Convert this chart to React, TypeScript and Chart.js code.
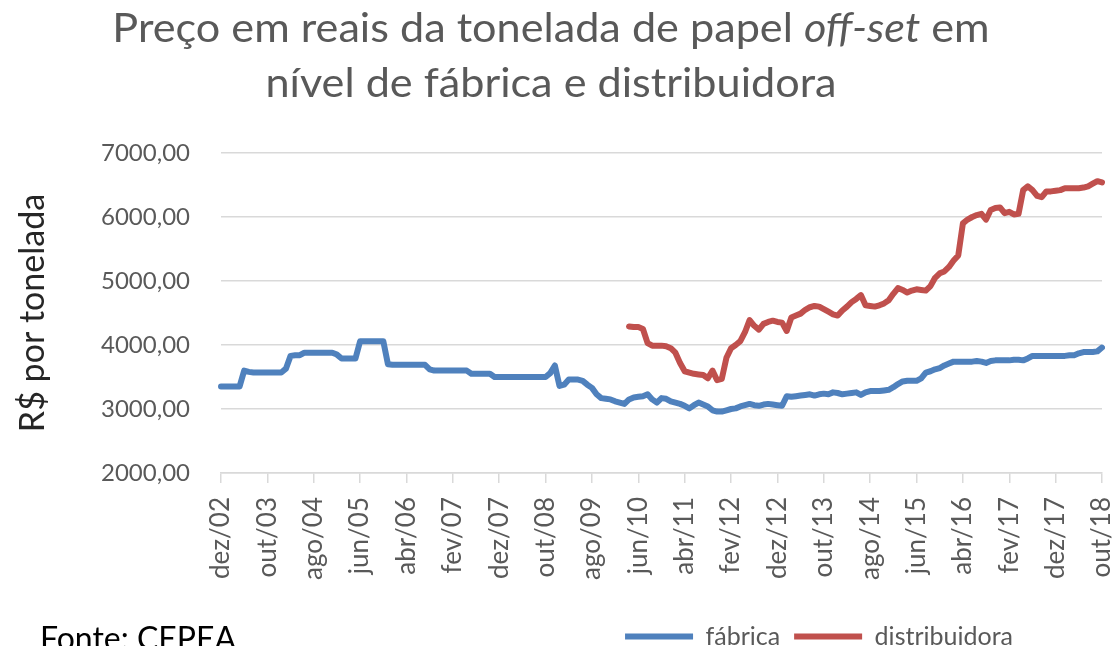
import React, { useEffect, useRef } from 'react';
import { Chart, registerables } from 'chart.js';

Chart.register(...registerables);

// Month abbreviations (pt-BR) used for the monthly category axis
const monthNames = ['jan', 'fev', 'mar', 'abr', 'mai', 'jun', 'jul', 'ago', 'set', 'out', 'nov', 'dez'];
const firstMonth = 'dez/02';
const monthCount = 191; // dez/02 .. out/18

// Tick labels shown every 10 months
const tickLabels = [
  'dez/02', 'out/03', 'ago/04', 'jun/05', 'abr/06', 'fev/07', 'dez/07', 'out/08', 'ago/09', 'jun/10',
  'abr/11', 'fev/12', 'dez/12', 'out/13', 'ago/14', 'jun/15', 'abr/16', 'fev/17', 'dez/17', 'out/18',
];

// fábrica, monthly from dez/02 to out/18 (R$ por tonelada)
const fabrica = [
  3350, 3350, 3350, 3350, 3350, 3600, 3580, 3570, 3570, 3570,
  3570, 3570, 3570, 3570, 3630, 3830, 3840, 3840, 3880, 3880,
  3880, 3880, 3880, 3880, 3880, 3850, 3790, 3790, 3790, 3790,
  4060, 4060, 4060, 4060, 4060, 4060, 3700, 3690, 3690, 3690,
  3690, 3690, 3690, 3690, 3690, 3620, 3600, 3600, 3600, 3600,
  3600, 3600, 3600, 3600, 3550, 3550, 3550, 3550, 3550, 3500,
  3500, 3500, 3500, 3500, 3500, 3500, 3500, 3500, 3500, 3500,
  3500, 3560, 3680, 3360, 3380, 3460, 3460, 3460, 3440, 3380,
  3330, 3230, 3170, 3160, 3150, 3120, 3100, 3080, 3150, 3180,
  3190, 3200, 3230, 3150, 3100, 3170, 3160, 3120, 3100, 3080,
  3050, 3010, 3060, 3100, 3070, 3040, 2980, 2960, 2960, 2980,
  3000, 3010, 3040, 3060, 3080, 3060, 3050, 3070, 3080, 3070,
  3060, 3050, 3200, 3190, 3200, 3210, 3220, 3230, 3210, 3230,
  3240, 3230, 3260, 3250, 3230, 3240, 3250, 3260, 3220, 3260,
  3280, 3280, 3280, 3290, 3300, 3340, 3390, 3430, 3440, 3440,
  3440, 3480, 3570, 3590, 3620, 3640, 3680, 3710, 3740, 3740,
  3740, 3740, 3740, 3750, 3740, 3720, 3750, 3760, 3760, 3760,
  3760, 3770, 3770, 3760, 3790, 3830, 3830, 3830, 3830, 3830,
  3830, 3830, 3830, 3840, 3840, 3870, 3890, 3890, 3890, 3900,
  3960,
];

// distribuidora, monthly from abr/10 to out/18
const distribuidoraStart = 'abr/10';
const distribuidora = [
  4290, 4280,
  4280, 4250, 4030, 3990, 3990, 3990, 3980, 3950, 3880, 3720,
  3590, 3570, 3550, 3540, 3530, 3480, 3600, 3450, 3470, 3800,
  3950, 4000, 4060, 4200, 4390, 4300, 4240, 4330, 4360, 4380,
  4360, 4350, 4220, 4430, 4460, 4490, 4550, 4590, 4610, 4600,
  4560, 4520, 4480, 4460, 4540, 4600, 4670, 4720, 4780, 4620,
  4610, 4600, 4620, 4650, 4700, 4800, 4890, 4860, 4820, 4850,
  4870, 4860, 4850, 4920, 5050, 5120, 5150, 5220, 5320, 5400,
  5900, 5960, 6000, 6030, 6050, 5960, 6110, 6140, 6150, 6060,
  6080, 6040, 6050, 6420, 6480, 6420, 6330, 6310, 6400, 6400,
  6410, 6420, 6450, 6450, 6450, 6450, 6460, 6480, 6520, 6560,
  6540,
];

const seriesNames = ['fábrica', 'distribuidora'];
const seriesColors = ['#4F81BD', '#C0504D'];

function buildMonths(): string[] {
  const [m0, y0] = firstMonth.split('/');
  let m = monthNames.indexOf(m0);
  let y = parseInt(y0, 10);
  const out: string[] = [];
  for (let k = 0; k < monthCount; k++) {
    out.push(`${monthNames[m]}/${String(y).padStart(2, '0')}`);
    m++;
    if (m === 12) { m = 0; y++; }
  }
  return out;
}

const FONT = 'Lato';

export default function App() {
  const ref = useRef<HTMLCanvasElement>(null);

  useEffect(() => {
    document.body.style.margin = '0';
    const months = buildMonths();
    const start = months.indexOf(distribuidoraStart);
    const distData = months.map((_, k) => (k < start ? null : distribuidora[k - start] ?? null));

    const legendShift = {
      id: 'legendShift',
      afterLayout(chart: any) {
        const lg = chart.legend;
        if (!lg) return;
        const pad = lg.options.labels.padding || 0;
        const dx = 826 - pad / 2 - (lg.left + lg.right) / 2;
        lg.left += dx;
        lg.right += dx;
        const dy = 610 - lg.top;
        lg.top += dy;
        lg.bottom += dy;
      },
    };

    const chart = new Chart(ref.current!, {
      type: 'line',
      data: {
        labels: months,
        datasets: [
          {
            label: seriesNames[0],
            data: fabrica,
            borderColor: seriesColors[0],
            backgroundColor: seriesColors[0],
            borderWidth: 6,
            pointRadius: 0,
            borderCapStyle: 'round',
            borderJoinStyle: 'round',
            tension: 0,
          },
          {
            label: seriesNames[1],
            data: distData,
            borderColor: seriesColors[1],
            backgroundColor: seriesColors[1],
            borderWidth: 6,
            pointRadius: 0,
            borderCapStyle: 'round',
            borderJoinStyle: 'round',
            tension: 0,
          },
        ],
      },
      options: {
        responsive: false,
        animation: false,
        layout: { padding: { top: 153, right: 15, left: 0, bottom: 0 } },
        plugins: {
          title: { display: false },
          tooltip: { enabled: false },
          legend: {
            position: 'bottom',
            labels: {
              boxWidth: 68,
              boxHeight: 6,
              padding: 14,
              color: '#595959',
              font: { family: FONT, size: 25 },
              generateLabels: (c: any) =>
                (Chart.defaults.plugins.legend.labels.generateLabels as any)(c).map((l: any) => ({ ...l, lineWidth: 0 })),
            },
          },
        },
        scales: {
          x: {
            ticks: {
              autoSkip: false,
              maxRotation: 90,
              minRotation: 90,
              padding: 14,
              color: '#595959',
              font: { family: FONT, size: 26 },
              callback: (_v: any, i: number) => (i % 10 === 0 ? tickLabels[i / 10] : null),
            },
            grid: { drawOnChartArea: false, drawTicks: true, tickLength: 10, color: '#d9d9d9', lineWidth: 1.5 },
            border: { display: true, color: '#d9d9d9', width: 1.5 },
            afterFit: (s: any) => { s.height = 124; s.paddingLeft = 0; s.paddingRight = 0; },
          },
          y: {
            min: 2000,
            max: 7000,
            ticks: {
              stepSize: 1000,
              padding: 31,
              color: '#595959',
              font: { family: FONT, size: 24 },
              callback: (v: any) => Number(v).toFixed(2).replace('.', ','),
            },
            grid: { color: '#d9d9d9', lineWidth: 1.5, drawTicks: false },
            border: { display: false },
            title: {
              display: true,
              text: 'R$ por tonelada',
              color: '#262626',
              font: { family: FONT, size: 34 },
              padding: { top: 13, bottom: 0 },
            },
            afterFit: (s: any) => { s.width = 221; },
          },
        },
      } as any,
      plugins: [legendShift],
    });
    return () => chart.destroy();
  }, []);

  return (
    <div style={{ position: 'relative', width: 1117, height: 646, overflow: 'hidden', background: '#fff', fontFamily: FONT }}>
      <canvas ref={ref} width={1117} height={646} style={{ position: 'absolute', left: 0, top: 0 }} />
      <div
        style={{
          position: 'absolute', left: 0, top: 0, width: 1102, textAlign: 'center',
          fontSize: 40, lineHeight: '55px', color: '#595959',
          transform: 'scaleX(1.08)', transformOrigin: '551px 0',
        }}
      >
        <div>Preço em reais da tonelada de papel <i>off-set</i> em</div>
        <div>nível de fábrica e distribuidora</div>
      </div>
      <div style={{ position: 'absolute', left: 40, top: 622, fontSize: 32, lineHeight: '32px', color: '#000', whiteSpace: 'nowrap' }}>
        Fonte: CEPEA
      </div>
    </div>
  );
}
